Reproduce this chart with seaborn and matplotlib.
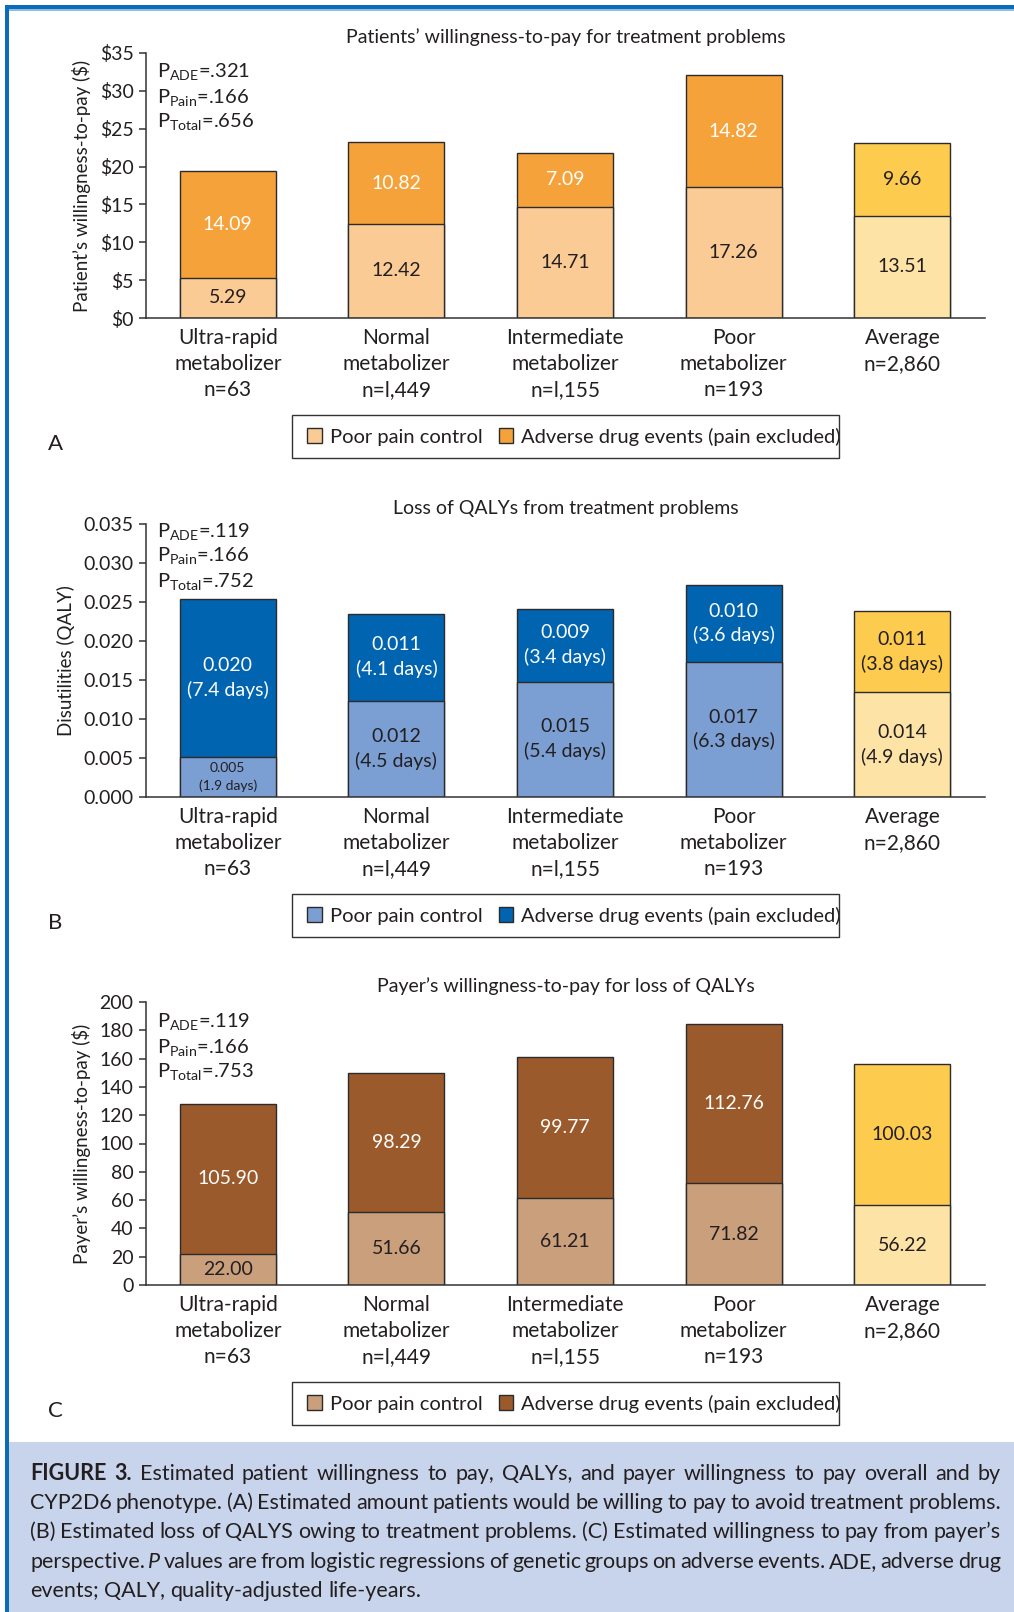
import numpy as np
import pandas as pd
import matplotlib as mpl
import matplotlib.pyplot as plt
import seaborn as sns
from matplotlib.patches import Rectangle

sns.set_theme(style='white')
plt.rcParams['font.family'] = ['Lato', 'DejaVu Sans']
mpl.rcParams['mathtext.default'] = 'regular'
mpl.rcParams['axes.linewidth'] = 1.1
mpl.rcParams['axes.edgecolor'] = '#333333'

# ---- data ----
groups = ['Ultra-rapid\nmetabolizer\nn=63', 'Normal\nmetabolizer\nn=l,449',
          'Intermediate\nmetabolizer\nn=l,155', 'Poor\nmetabolizer\nn=193', 'Average\nn=2,860']

wtp_pain = [5.29, 12.42, 14.71, 17.26, 13.51]
wtp_ade = [14.09, 10.82, 7.09, 14.82, 9.66]

qaly_pain = [0.0051, 0.0123, 0.0148, 0.0173, 0.0134]
qaly_ade = [0.0203, 0.0112, 0.0093, 0.0099, 0.0104]
qaly_pain_lbl = ['0.005', '0.012', '0.015', '0.017', '0.014']
qaly_ade_lbl = ['0.020', '0.011', '0.009', '0.010', '0.011']
days_pain = [1.9, 4.5, 5.4, 6.3, 4.9]
days_ade = [7.4, 4.1, 3.4, 3.6, 3.8]

payer_pain = [22.00, 51.66, 61.21, 71.82, 56.22]
payer_ade = [105.90, 98.29, 99.77, 112.76, 100.03]

p_wtp = ['.321', '.166', '.656']
p_qaly = ['.119', '.166', '.752']
p_payer = ['.119', '.166', '.753']

ink = '#231F20'
edge = '#2b2b2b'
avg_light, avg_dark = '#FDE3A6', '#FDCB4E'

W, H = 1014, 1612
fig = plt.figure(figsize=(W / 100, H / 100), dpi=100)


def px_axes(left, top, right, bottom):
    return fig.add_axes([left / W, 1 - bottom / H, (right - left) / W, (bottom - top) / H])


def panel(ax, lower, upper, c_low, c_up, ymax, step, fmt, title, ylabel,
          pvals, p_off, low_txt, up_txt, low_fs, legend_labels):
    n = len(groups)
    total = [a + b for a, b in zip(lower, upper)]
    df = pd.DataFrame({'g': range(n), 'total': total, 'low': lower})
    up_cols = [c_up] * (n - 1) + [avg_dark]
    low_cols = [c_low] * (n - 1) + [avg_light]
    sns.barplot(data=df, x='g', y='total', hue='g', palette=up_cols, legend=False,
                width=0.57, edgecolor=edge, linewidth=1.0, saturation=1, ax=ax)
    sns.barplot(data=df, x='g', y='low', hue='g', palette=low_cols, legend=False,
                width=0.57, edgecolor=edge, linewidth=1.0, saturation=1, ax=ax)
    ax.set_xlim(-0.485, 4.49)
    ax.set_ylim(0, ymax)
    ticks = np.arange(0, ymax + step / 2, step)
    ax.set_yticks(ticks)
    ax.set_yticklabels([fmt(t) for t in ticks])
    ax.set_xticks(range(n))
    ax.set_xticklabels(groups, fontsize=15, color=ink, linespacing=1.38)
    ax.tick_params(axis='y', left=True, length=5, width=1.1, pad=4, labelsize=14,
                   labelcolor=ink, color='#333333')
    ax.tick_params(axis='x', bottom=False, length=0, pad=7)
    ax.spines['top'].set_visible(False)
    ax.spines['right'].set_visible(False)
    ax.set_xlabel('')
    ax.set_ylabel(ylabel, fontsize=13.5, color=ink, labelpad=6)
    ax.set_title(title, fontsize=14, color=ink, pad=7.5)

    for i in range(n):
        dark_up = i < n - 1
        ax.text(i, lower[i] / 2, low_txt[i], ha='center', va='center',
                fontsize=low_fs[i], color=ink, linespacing=1.45)
        ax.text(i, lower[i] + upper[i] / 2, up_txt[i], ha='center', va='center',
                fontsize=14, color='white' if dark_up else ink, linespacing=1.45)

    names = ['ADE', 'Pain', 'Total']
    for k, (nm, pv) in enumerate(zip(names, pvals)):
        ax.annotate('P$_{' + nm + '}$=' + pv, xy=(0, 1), xycoords='axes fraction',
                    xytext=(11, -p_off[k]), textcoords='offset pixels',
                    ha='left', va='center', fontsize=14.5, color=ink)

    # legend: content slightly overflows its frame on the right, as in the original
    pos = ax.get_position()
    h_px = pos.height * H
    handles = [Rectangle((0, 0), 1, 1, fc=c_low, ec=edge, lw=1),
               Rectangle((0, 0), 1, 1, fc=c_up, ec=edge, lw=1)]
    x_leg = (574 - 146) / (985 - 146)
    ax.legend(handles, legend_labels, ncol=2, loc='center',
              bbox_to_anchor=(x_leg, -118.5 / h_px), frameon=False,
              fontsize=14.5, handlelength=0.72, handleheight=0.72,
              handletextpad=0.4, columnspacing=0.8, labelcolor=ink)
    y_mid = (1 - pos.y0) * H + 118.5
    fig.add_artist(Rectangle((292 / W, 1 - (y_mid + 21.5) / H), (839 - 292) / W, 43 / H,
                             transform=fig.transFigure, fc='none', ec='#333333', lw=1.0))


leg_labels = ['Poor pain control', 'Adverse drug events (pain excluded)']

axA = px_axes(146, 53, 985, 318)
panel(axA, wtp_pain, wtp_ade, '#FBCB95', '#F6A23A', 35, 5, lambda t: '$' + str(int(t)),
      'Patients’ willingness-to-pay for treatment problems', 'Patient’s willingness-to-pay ($)',
      p_wtp, [18, 44, 69], ['%.2f' % v for v in wtp_pain], ['%.2f' % v for v in wtp_ade],
      [14] * 5, leg_labels)

axB = px_axes(146, 524, 985, 797)
panel(axB, qaly_pain, qaly_ade, '#7B9ED3', '#0064B0', 0.035, 0.005, lambda t: '%.3f' % t,
      'Loss of QALYs from treatment problems', 'Disutilities (QALY)',
      p_qaly, [7, 32, 57],
      ['%s\n(%.1f days)' % (a, d) for a, d in zip(qaly_pain_lbl, days_pain)],
      ['%s\n(%.1f days)' % (a, d) for a, d in zip(qaly_ade_lbl, days_ade)],
      [10] + [14] * 4, leg_labels)

axC = px_axes(146, 1002, 985, 1285)
panel(axC, payer_pain, payer_ade, '#C99F7C', '#9B5A2B', 200, 20, lambda t: str(int(t)),
      'Payer’s willingness-to-pay for loss of QALYs', 'Payer’s willingness-to-pay ($)',
      p_payer, [19, 45, 70], ['%.2f' % v for v in payer_pain], ['%.2f' % v for v in payer_ade],
      [14] * 5, leg_labels)

for letter, y in [('A', 444), ('B', 923), ('C', 1411)]:
    fig.text(55 / W, 1 - y / H, letter, fontsize=16, color=ink, ha='center', va='center')

# frame and caption box
fig.add_artist(Rectangle((9 / W, 0), 1, 1 - 1442 / H, transform=fig.transFigure,
                         fc='#C8D4EB', ec='none', zorder=0))
fig.add_artist(Rectangle((5 / W, 1 - 9.5 / H), 1, 4.5 / H, transform=fig.transFigure,
                         fc='#0B6CB7', ec='none'))
fig.add_artist(Rectangle((5 / W, 1 - 10.5 / H), 1, 1 / H, transform=fig.transFigure,
                         fc='#8DBCE6', ec='none'))
fig.add_artist(Rectangle((5 / W, 0), 4 / W, 1 - 5 / H, transform=fig.transFigure,
                         fc='#0B6CB7', ec='none'))

caption = [
    'FIGURE 3. Estimated patient willingness to pay, QALYs, and payer willingness to pay overall and by',
    'CYP2D6 phenotype. (A) Estimated amount patients would be willing to pay to avoid treatment problems.',
    '(B) Estimated loss of QALYS owing to treatment problems. (C) Estimated willingness to pay from payer’s',
    'perspective. P values are from logistic regressions of genetic groups on adverse events. ADE, adverse drug',
    'events; QALY, quality-adjusted life-years.',
]
cap_base = [1480, 1509, 1538, 1568, 1597]
cap_font = ['Lato', 'DejaVu Sans']
cap_fs = 15.5
x0, x1 = 30, 1001
r = fig.canvas.get_renderer()
for li, line in enumerate(caption):
    texts = []
    for tk in line.split(' '):
        wt = 'bold' if (li == 0 and tk in ('FIGURE', '3.')) else 'normal'
        st = 'italic' if (li == 3 and tk == 'P') else 'normal'
        texts.append(fig.text(0, 0, tk, fontsize=cap_fs, weight=wt, style=st,
                              family=cap_font, color=ink, va='baseline', ha='left'))
    widths = [t.get_window_extent(renderer=r).width for t in texts]
    if li < len(caption) - 1:
        gap = (x1 - x0 - sum(widths)) / (len(texts) - 1)
    else:
        gap = cap_fs * 0.25 * 100 / 72
    x = x0
    for t, w in zip(texts, widths):
        t.set_position((x / W, 1 - cap_base[li] / H))
        x += w + gap

fig.savefig('out.png', dpi=100)
